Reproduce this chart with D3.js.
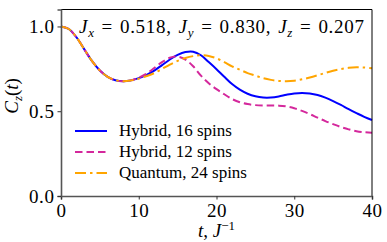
<!DOCTYPE html>
<html>
<head>
<meta charset="utf-8">
<script src="https://cdn.jsdelivr.net/npm/d3@7"></script>
<style>
body { margin: 0; background: #fff; }
</style>
</head>
<body>
<div id="chart"></div>
<script>
var times = d3.range(0, 41);
var hybrid16 = [1.0, 0.985, 0.935, 0.865, 0.795, 0.74, 0.703, 0.683, 0.677, 0.682, 0.695,
  0.715, 0.74, 0.772, 0.805, 0.832, 0.849, 0.851, 0.83, 0.79, 0.748,
  0.703, 0.66, 0.627, 0.603, 0.588, 0.581, 0.581, 0.587, 0.597, 0.605,
  0.608, 0.605, 0.596, 0.58, 0.56, 0.537, 0.512, 0.489, 0.467, 0.448];
var hybrid12 = [1.0, 0.985, 0.935, 0.865, 0.795, 0.74, 0.703, 0.683, 0.677, 0.682, 0.698,
  0.722, 0.755, 0.79, 0.815, 0.822, 0.805, 0.765, 0.71, 0.665, 0.63,
  0.6, 0.572, 0.553, 0.542, 0.536, 0.534, 0.534, 0.533, 0.528, 0.518,
  0.502, 0.483, 0.462, 0.442, 0.424, 0.407, 0.393, 0.382, 0.376, 0.373];
var quantum24 = [1.0, 0.985, 0.935, 0.865, 0.795, 0.74, 0.703, 0.683, 0.677, 0.682, 0.692,
  0.707, 0.725, 0.75, 0.775, 0.797, 0.814, 0.825, 0.83, 0.826, 0.812,
  0.79, 0.765, 0.745, 0.725, 0.71, 0.695, 0.685, 0.679, 0.677, 0.68,
  0.688, 0.699, 0.712, 0.726, 0.739, 0.749, 0.756, 0.759, 0.758, 0.754];
var seriesNames = ["Hybrid, 16 spins", "Hybrid, 12 spins", "Quantum, 24 spins"];
var xTicks = [0, 10, 20, 30, 40];
var yTicks = [0.0, 0.5, 1.0];

var FONT = "Liberation Serif";
var W = 387, H = 242;
var margin = {top: 9.5, right: 15, bottom: 46, left: 61};

var svg = d3.select("#chart").append("svg")
  .attr("width", W)
  .attr("height", H);

var x = d3.scaleLinear().domain([0, 40]).range([margin.left, W - margin.right]);
var y = d3.scaleLinear().domain([0, 1.1]).range([H - margin.bottom, margin.top]);

var series = [
  {name: seriesNames[0], vals: hybrid16, color: "#0000ff", dash: null},
  {name: seriesNames[1], vals: hybrid12, color: "#d4289c", dash: "7.5,4"},
  {name: seriesNames[2], vals: quantum24, color: "#ffa500", dash: "11,4,2.5,4"}
];

var line = d3.line()
  .x(function(d){ return x(d[0]); })
  .y(function(d){ return y(d[1]); })
  .curve(d3.curveCatmullRom);

var plot = svg.append("g");
series.forEach(function(s){
  plot.append("path")
    .datum(times.map(function(t, i){ return [t, s.vals[i]]; }))
    .attr("d", line)
    .attr("fill", "none")
    .attr("stroke", s.color)
    .attr("stroke-width", 2)
    .attr("stroke-dasharray", s.dash);
});

// frame top + right
svg.append("line").attr("x1", x(0)).attr("x2", x(40)).attr("y1", y(1.1)).attr("y2", y(1.1))
  .attr("stroke", "#000").attr("stroke-width", 1);
svg.append("line").attr("x1", x(40)).attr("x2", x(40)).attr("y1", y(1.1)).attr("y2", y(0))
  .attr("stroke", "#000").attr("stroke-width", 1);

var xAxis = svg.append("g")
  .attr("transform", "translate(0," + y(0) + ")")
  .call(d3.axisBottom(x).tickValues(xTicks).tickSize(3.5).tickPadding(4).tickFormat(d3.format("d")));
var yAxis = svg.append("g")
  .attr("transform", "translate(" + x(0) + ",0)")
  .call(d3.axisLeft(y).tickValues(yTicks).tickSize(3.5).tickPadding(3).tickFormat(d3.format(".1f")));

[xAxis, yAxis].forEach(function(a){
  a.attr("font-family", FONT).attr("font-size", 19);
  a.select(".domain").attr("stroke", "#555").attr("stroke-width", 1.6);
  a.selectAll(".tick line").attr("stroke", "#333").attr("stroke-width", 1);
  a.selectAll(".tick text").attr("fill", "#000").attr("letter-spacing", 0.6);
});

// parameter annotation
var title = svg.append("text")
  .attr("x", 79)
  .attr("y", 32.5)
  .attr("font-family", FONT)
  .attr("font-size", 19)
  .attr("letter-spacing", 0.7)
  .attr("word-spacing", 1.5);
[["0.518", "x"], ["0.830", "y"], ["0.207", "z"]].forEach(function(p, i){
  title.append("tspan").attr("font-style", "italic").text("J");
  title.append("tspan").attr("font-style", "italic").attr("font-size", 13).attr("dy", 4).text(p[1]);
  title.append("tspan").attr("dy", -4).text(" = " + p[0] + (i < 2 ? ", " : ""));
});

// axis labels
var yl = svg.append("text")
  .attr("transform", "translate(18," + y(0.59) + ") rotate(-90)")
  .attr("text-anchor", "middle")
  .attr("font-family", FONT)
  .attr("font-size", 19);
yl.append("tspan").attr("font-style", "italic").text("C");
yl.append("tspan").attr("font-style", "italic").attr("font-size", 13).attr("dy", 4).text("z");
yl.append("tspan").attr("dy", -4).text("(");
yl.append("tspan").attr("font-style", "italic").text("t");
yl.append("tspan").text(")");

var xl = svg.append("text")
  .attr("x", x(20))
  .attr("y", 237)
  .attr("text-anchor", "middle")
  .attr("font-family", FONT)
  .attr("font-size", 19);
xl.append("tspan").attr("font-style", "italic").text("t");
xl.append("tspan").text(", ");
xl.append("tspan").attr("font-style", "italic").text("J");
xl.append("tspan").attr("font-size", 13).attr("dy", -7).text("\u22121");

// legend
var legend = svg.append("g");
series.forEach(function(s, i){
  var ly = 131 + i * 21;
  legend.append("line")
    .attr("x1", 75).attr("x2", 107)
    .attr("y1", ly).attr("y2", ly)
    .attr("stroke", s.color)
    .attr("stroke-width", 2)
    .attr("stroke-dasharray", s.dash);
  legend.append("text")
    .attr("x", 119)
    .attr("y", ly + 5)
    .attr("font-family", FONT)
    .attr("font-size", 17)
    .text(s.name);
});
</script>
</body>
</html>
